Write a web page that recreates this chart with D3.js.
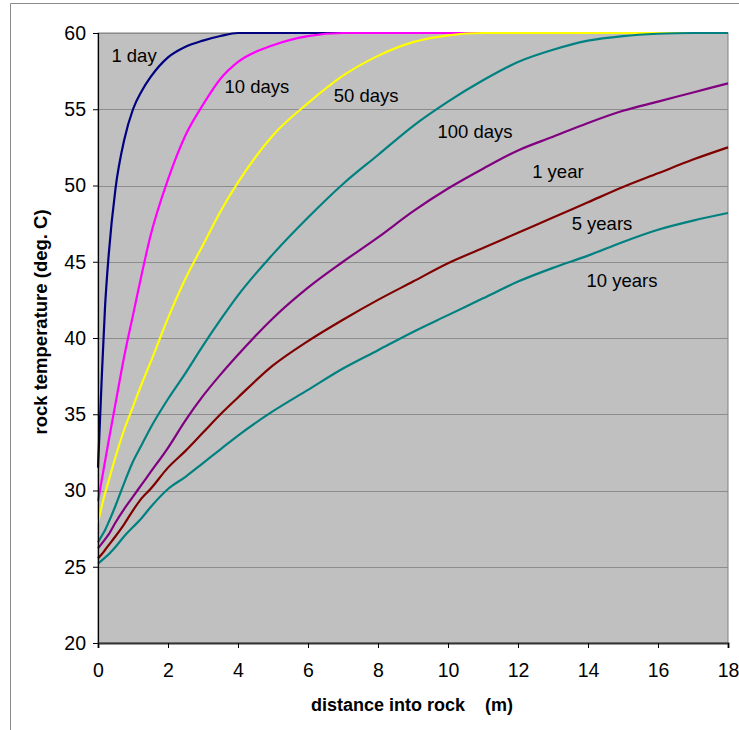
<!DOCTYPE html>
<html>
<head>
<meta charset="utf-8">
<script src="https://cdn.jsdelivr.net/npm/d3@7"></script>
<style>
  body { margin: 0; background: #fff; }
  text { font-family: Arial, "Liberation Sans", sans-serif; fill: #000; }
</style>
</head>
<body>
<div id="chart"></div>
<script>
// distance into rock (m)
const distance = [0, 0.1, 0.2, 0.3, 0.5, 0.75, 1, 1.25, 1.5, 2, 2.5, 3, 3.5, 4,
                  5, 6, 7, 8, 9, 10, 11, 12, 13, 14, 15, 16, 17, 18];

// rock temperature (deg. C) for each elapsed time
const oneDay    = [31.5, 37.0, 42.0, 45.3, 49.8, 53.0, 55.0, 56.2, 57.1, 58.4, 59.1, 59.5, 59.8, 60,
                   60, 60, 60, 60, 60, 60, 60, 60, 60, 60, 60, 60, 60, 60];
const tenDays   = [29.3, 30.6, 31.9, 33.2, 35.7, 38.8, 41.5, 44.2, 46.7, 50.4, 53.3, 55.3, 57.0, 58.1,
                   59.2, 59.8, 60, 60, 60, 60, 60, 60, 60, 60, 60, 60, 60, 60];
const fiftyDays = [27.9, 28.9, 29.8, 30.6, 32.2, 34.0, 35.5, 37.0, 38.4, 41.3, 43.9, 46.1, 48.3, 50.2,
                   53.3, 55.4, 57.2, 58.5, 59.4, 59.85, 60, 60, 60, 60, 60, 60, 60, 60];
const hundredDays = [26.6, 27.0, 27.4, 27.9, 29.0, 30.5, 31.9, 33.0, 34.1, 36.0, 37.7, 39.5, 41.2, 42.8,
                   45.5, 47.9, 50.1, 52.0, 53.9, 55.5, 56.9, 58.1, 58.9, 59.5, 59.8, 59.95, 60, 60];
const oneYear   = [26.2, 26.5, 26.8, 27.1, 27.9, 28.8, 29.6, 30.4, 31.2, 32.8, 34.6, 36.2, 37.6, 38.9,
                   41.3, 43.3, 45.0, 46.6, 48.3, 49.8, 51.1, 52.3, 53.2, 54.1, 54.9, 55.5, 56.1, 56.7];
const fiveYears = [25.55, 25.8, 26.1, 26.4, 27.0, 27.8, 28.7, 29.5, 30.1, 31.5, 32.6, 33.8, 35.0, 36.1,
                   38.2, 39.8, 41.2, 42.5, 43.7, 44.9, 45.9, 46.9, 47.9, 48.9, 49.9, 50.8, 51.7, 52.5];
const tenYears  = [25.2, 25.4, 25.6, 25.8, 26.3, 27.0, 27.6, 28.2, 28.9, 30.1, 30.9, 31.8, 32.7, 33.6,
                   35.2, 36.6, 38.0, 39.2, 40.4, 41.5, 42.6, 43.7, 44.6, 45.4, 46.3, 47.1, 47.7, 48.2];

const seriesNames  = ['1 day', '10 days', '50 days', '100 days', '1 year', '5 years', '10 years'];
const seriesValues = [oneDay, tenDays, fiftyDays, hundredDays, oneYear, fiveYears, tenYears];
const seriesColors = ['#000080', '#ff00ff', '#ffff00', '#008080', '#800080', '#800000', '#008080'];

// where each curve label sits (distance, temperature)
const labelDist = [1.03, 4.54, 7.66, 10.77, 13.14, 14.4, 14.97];
const labelTemp = [58.5, 56.46, 55.87, 53.57, 50.9, 47.5, 43.8];

const xTicks = [0, 2, 4, 6, 8, 10, 12, 14, 16, 18];
const yTicks = [20, 25, 30, 35, 40, 45, 50, 55, 60];

const width = 739, height = 730;
const margin = { top: 33, right: 11, bottom: 87, left: 98 };

const svg = d3.select('#chart')
  .append('svg')
    .attr('width', width)
    .attr('height', height);

// outer frame (left and top edges visible)
svg.append('path')
  .attr('d', `M10.5,${height} V3.5 H${width}`)
  .attr('fill', 'none')
  .attr('stroke', '#8a8a8a');

const x = d3.scaleLinear().domain([0, 18]).range([margin.left, width - margin.right]);
const y = d3.scaleLinear().domain([20, 60]).range([height - margin.bottom, margin.top]);

// plot background
svg.append('rect')
  .attr('x', x(0)).attr('y', y(60))
  .attr('width', x(18) - x(0)).attr('height', y(20) - y(60))
  .attr('fill', '#c0c0c0')
  .attr('stroke', '#808080');

// gridlines
svg.append('g')
  .selectAll('line')
  .data(yTicks.filter(d => d > 20))
  .join('line')
    .attr('x1', x(0)).attr('x2', x(18))
    .attr('y1', d => Math.round(y(d)) + 0.5)
    .attr('y2', d => Math.round(y(d)) + 0.5)
    .attr('stroke', '#8c8c8c');

// curves
const line = d3.line()
  .x((d, i) => x(distance[i]))
  .y(d => y(d))
  .curve(d3.curveMonotoneX);

svg.append('g')
  .selectAll('path')
  .data(seriesValues)
  .join('path')
    .attr('d', d => line(d))
    .attr('fill', 'none')
    .attr('stroke', (d, i) => seriesColors[i])
    .attr('stroke-width', 2.2)
    .attr('stroke-linejoin', 'round');

// curve labels
svg.append('g')
  .selectAll('text')
  .data(seriesNames)
  .join('text')
    .attr('x', (d, i) => x(labelDist[i]))
    .attr('y', (d, i) => y(labelTemp[i]))
    .attr('dy', '0.35em')
    .attr('text-anchor', 'middle')
    .style('font-size', '18.5px')
    .attr('fill', '#1a1a1a')
    .text(d => d);

// y axis
const yAxis = svg.append('g')
  .attr('transform', `translate(${x(0)},0)`)
  .call(d3.axisLeft(y).tickValues(yTicks).tickSize(5).tickPadding(7));
yAxis.select('.domain').attr('stroke', '#000').attr('stroke-width', 1.2);
yAxis.selectAll('text').style('font-size', '19.5px').attr('fill', '#000');

// x axis
const xAxis = svg.append('g')
  .attr('transform', `translate(0,${y(20)})`)
  .call(d3.axisBottom(x).tickValues(xTicks).tickSize(5).tickPadding(15));
xAxis.select('.domain').attr('stroke', '#333').attr('stroke-width', 2);
xAxis.selectAll('text').style('font-size', '19.5px').attr('fill', '#000');

// axis titles
svg.append('text')
  .attr('x', 412).attr('y', 711)
  .attr('text-anchor', 'middle')
  .style('font-size', '18px')
  .style('font-weight', 'bold')
  .attr('xml:space', 'preserve')
  .text('distance into rock    (m)');

svg.append('text')
  .attr('transform', 'translate(47,322) rotate(-90)')
  .attr('text-anchor', 'middle')
  .style('font-size', '18.5px')
  .style('font-weight', 'bold')
  .text('rock temperature (deg. C)');
</script>
</body>
</html>
